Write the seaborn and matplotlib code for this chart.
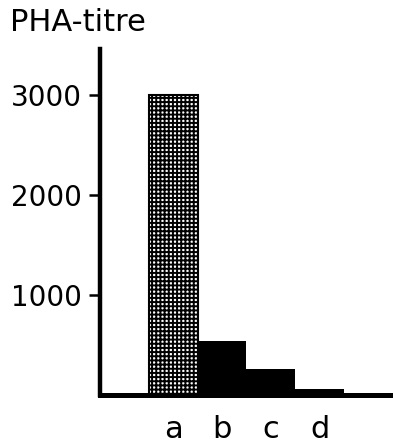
import matplotlib
matplotlib.use("Agg")
import matplotlib.pyplot as plt
import seaborn as sns

categories = ["", "a", "b", "c", "d", " "]
titre = [15, 3000, 540, 265, 65, 15]
tick_values = [1000, 2000, 3000]
tick_labels = ["1000", "2000", "3000"]

sns.set_style("white")
plt.rcParams["font.family"] = ["DejaVu Sans"]
plt.rcParams["hatch.linewidth"] = 1.4
plt.rcParams["hatch.color"] = "black"
plt.rcParams["text.color"] = "black"

fig = plt.figure(figsize=(3.93, 4.44), dpi=100)
ax = fig.add_axes([0.2545, 0.110, 0.745, 0.780])

sns.barplot(x=categories, y=titre, order=categories, color="black",
            width=1.0, saturation=1, ax=ax, linewidth=0)
for i, p in enumerate(ax.patches):
    if categories[i] == "a":
        p.set_facecolor("white")
        p.set_edgecolor("black")
        p.set_linewidth(1.5)
        p.set_hatch("++++")

ax.set_xlim(-0.5, 5.5)
ax.set_ylim(0, 3460)
ax.set_yticks(tick_values)
ax.set_yticklabels(tick_labels, fontsize=20, color="black")
ax.set_xticks(range(len(categories)))
ax.set_xticklabels(categories, fontsize=22, color="black")
ax.set_xlabel("")
ax.set_ylabel("")

for s in ["top", "right"]:
    ax.spines[s].set_visible(False)
ax.spines["left"].set_linewidth(3.2)
ax.spines["bottom"].set_linewidth(3.6)
ax.spines["left"].set_color("black")
ax.spines["bottom"].set_color("black")
ax.tick_params(axis="y", direction="out", length=8, width=1.8, pad=5, left=True, colors="black")
ax.tick_params(axis="x", length=0, pad=14, colors="black")

fig.text(10 / 393, 1 - 8 / 444, "PHA-titre", fontsize=22, ha="left", va="top", color="black")

fig.savefig("out.png", dpi=100)
